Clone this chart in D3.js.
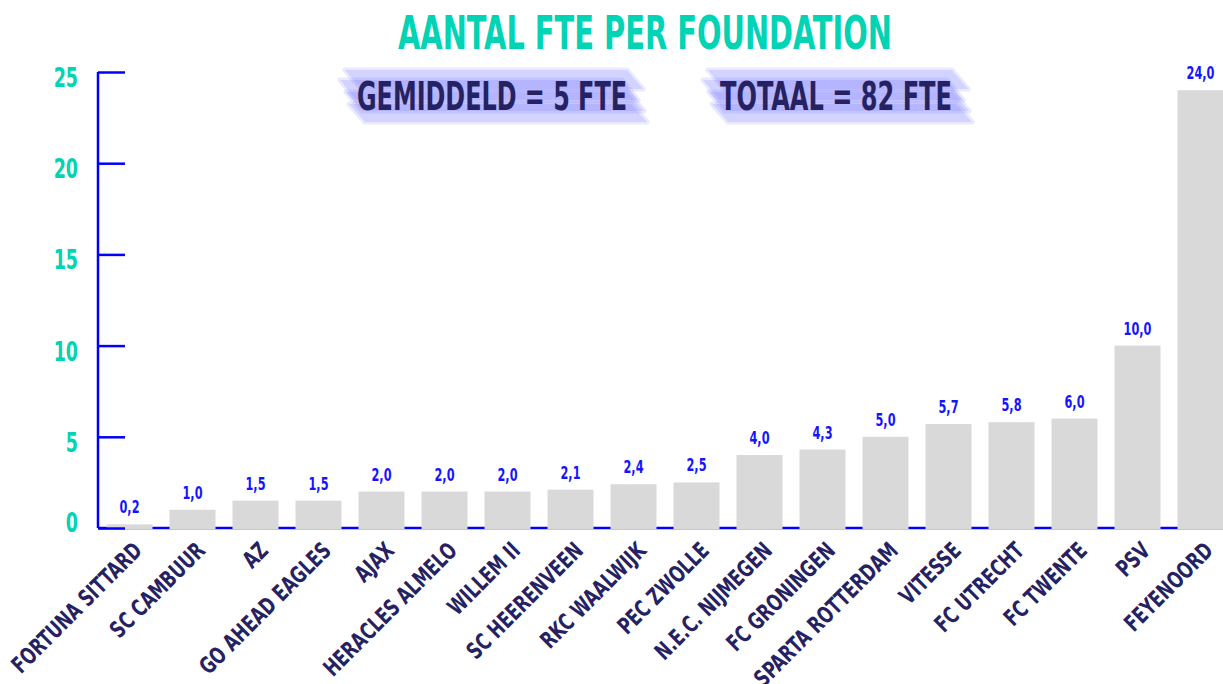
<!DOCTYPE html>
<html><head><meta charset="utf-8">
<script src="https://cdn.jsdelivr.net/npm/d3@7"></script>
<style>
html,body{margin:0;padding:0;background:#fff;}
text{font-family:"DejaVu Sans Condensed","Liberation Sans Narrow",sans-serif;font-weight:bold;}
</style></head>
<body>
<svg id="chart" width="1223" height="684"></svg>
<script>
const categories = ["FORTUNA SITTARD","SC CAMBUUR","AZ","GO AHEAD EAGLES","AJAX","HERACLES ALMELO","WILLEM II","SC HEERENVEEN","RKC WAALWIJK","PEC ZWOLLE","N.E.C. NIJMEGEN","FC GRONINGEN","SPARTA ROTTERDAM","VITESSE","FC UTRECHT","FC TWENTE","PSV","FEYENOORD"];
const values = [0.2,1.0,1.5,1.5,2.0,2.0,2.0,2.1,2.4,2.5,4.0,4.3,5.0,5.7,5.8,6.0,10.0,24.0];
const yTicks = [0,5,10,15,20,25];
const title = "AANTAL FTE PER FOUNDATION";
const annotations = ["GEMIDDELD = 5 FTE","TOTAAL = 82 FTE"];

const svg = d3.select("#chart");
const W = 1223, H = 684;
const margin = {left:98, right:-9, top:72, bottom:156};
const x = d3.scaleBand().domain(categories).range([margin.left, W - margin.right]).paddingInner(0.27).paddingOuter(0.135);
const y = d3.scaleLinear().domain([0,25]).range([H - margin.bottom, margin.top]);

const TEAL = "#00d4b4", BLUE = "#0000ff", NAVY = "#262262", BAR = "#d9d9d9";

// title
svg.append("text").attr("x", 645).attr("y", 49).attr("text-anchor","middle")
  .attr("font-size", 47).attr("fill", TEAL)
  .attr("textLength", 494).attr("lengthAdjust","spacingAndGlyphs").text(title);

// annotations with marker highlight
const annX = [492, 836], annW = [270, 232];
annotations.forEach((t,i)=>{
  const g = svg.append("g");
  const cx = annX[i], w = annW[i];
  const L = cx - w/2 - 14, R = cx + w/2 - 2;
  const strokes = [
    {y:70, h:19, dx:2},
    {y:80, h:20, dx:-3},
    {y:92, h:19, dx:3},
    {y:104, h:18, dx:6}
  ];
  strokes.forEach(s=>{
    const sk = 16;
    const p = d3.path();
    p.moveTo(L + s.dx, s.y);
    p.lineTo(R + s.dx, s.y);
    p.lineTo(R + s.dx + sk, s.y + s.h);
    p.lineTo(L + s.dx + sk, s.y + s.h);
    p.closePath();
    g.append("path").attr("d", p.toString()).attr("fill","#6f6fff").attr("opacity",0.3)
      .attr("stroke","#6f6fff").attr("stroke-width",5).attr("stroke-linejoin","round").attr("stroke-opacity",0.5);
  });
  g.append("text").attr("x", cx).attr("y", 110).attr("text-anchor","middle")
    .attr("font-size", 39).attr("fill", NAVY)
    .attr("textLength", w).attr("lengthAdjust","spacingAndGlyphs").text(t);
});

// bottom axis line
svg.append("line").attr("x1", margin.left).attr("x2", W).attr("y1", y(0)).attr("y2", y(0))
  .attr("stroke", BLUE).attr("stroke-width", 2.5);

// bars
svg.selectAll("rect.bar").data(values).join("rect").attr("class","bar")
  .attr("x",(d,i)=>x(categories[i])).attr("width", x.bandwidth())
  .attr("y", d=>y(d)).attr("height", d=>y(0)-y(d) + 1).attr("fill", BAR);

// y axis
const yAxis = d3.axisRight(y).tickValues(yTicks).tickSize(27).tickFormat("");
const ga = svg.append("g").attr("transform",`translate(${margin.left},0)`).call(yAxis);
ga.select(".domain").attr("stroke", BLUE).attr("stroke-width", 2.5).attr("d", `M0,${y(25)}V${y(0)}`);
ga.selectAll(".tick line").attr("stroke", BLUE).attr("stroke-width", 2.5);

// y tick labels
svg.selectAll("text.ytl").data(yTicks).join("text").attr("class","ytl")
  .attr("transform", d=>`translate(78,${d===0 ? y(d)+4 : y(d)+15}) scale(0.72,1)`)
  .attr("text-anchor","end")
  .attr("font-size", 27).attr("fill", TEAL).text(d=>d);

// value labels
svg.selectAll("text.vl").data(values).join("text").attr("class","vl")
  .attr("transform",(d,i)=>`translate(${x(categories[i]) + x.bandwidth()/2},${y(d) - 11}) scale(0.7,1)`)
  .attr("text-anchor","middle").attr("font-size", 18).attr("fill", "#1414ff")
  .text(d=>d3.format(".1f")(d).replace(".",","));

// category labels
svg.selectAll("text.cl").data(categories).join("text").attr("class","cl")
  .attr("transform", d=>`translate(${x(d) + x.bandwidth()/2 + 14},552) rotate(-45) scale(0.8,1)`)
  .attr("text-anchor","end").attr("font-size", 23).attr("fill", NAVY).text(d=>d);
</script>
</body></html>
